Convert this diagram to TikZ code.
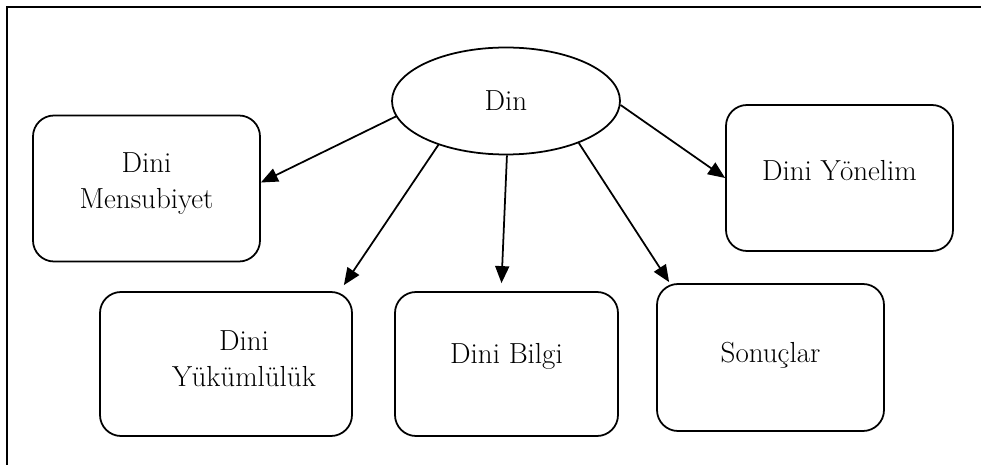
\documentclass[tikz,border=0pt]{standalone}
\usetikzlibrary{shapes.geometric, arrows.meta, calc}

\tikzset{
  kutu/.style = {draw, line width = 1pt, rounded corners = 0.42cm, align = center,
    minimum width = 4.54cm, minimum height = 2.92cm, inner sep = 0pt},
  oval/.style = {draw, line width = 1pt, ellipse, inner sep = 0pt,
    minimum width = 4.56cm, minimum height = 2.14cm},
  ok/.style = {line width = 1pt, -{Triangle[length = 0.34cm, width = 0.28cm]}}
}

\begin{document}
\begin{tikzpicture}[font = \fontsize{16.5}{20.5}\selectfont]

      \useasboundingbox (0, 0) rectangle (19.62, -9.3);
      \draw[line width = 1pt] (19.62, -0.14) -- (0.14, -0.14) -- (0.14, -9.3);

      \node[oval] (din) at (10.12, -2.02) {Din};

      \node[kutu, text depth = 0.3cm] (mens) at (2.93, -3.77) {Dini\\Mensubiyet};
      \node[kutu, text depth = 0.32cm] (yon) at (16.79, -3.56) {Dini Yönelim};
      \node[kutu, text depth = 0.2cm, minimum width = 5.04cm, minimum height = 2.88cm] (yuk) at (4.52, -7.28)
        {\hspace*{0.72cm}Dini\\\hspace*{0.72cm}Yükümlülük};
      \node[kutu, text depth = 0.44cm, minimum width = 4.46cm, minimum height = 2.88cm] (bilgi) at (10.13, -7.28) {Dini Bilgi};
      \node[kutu, text depth = 0.2cm, minimum height = 2.94cm] (son) at (15.41, -7.15) {Sonuçlar};

      \draw[ok] (din.188) -- (mens.3);
      \draw[ok] (din.213) -- ($(yuk.north east) + (-0.18, 0.12)$);
      \draw[ok] (din.271) -- ($(bilgi.north) + (-0.1, 0.16)$);
      \draw[ok] (din.330) -- ($(son.north west) + (0.26, 0.02)$);
      \draw[ok] (din.358) -- (yon.west);

    \end{tikzpicture}
\end{document}
